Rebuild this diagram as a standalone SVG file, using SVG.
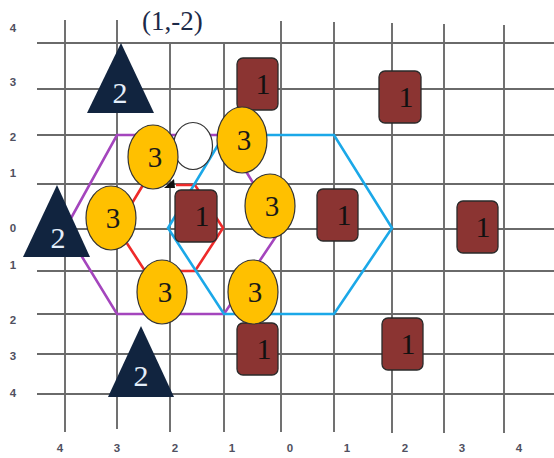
<svg xmlns="http://www.w3.org/2000/svg" width="554" height="458" viewBox="0 0 554 458">
<style>
.grid line{stroke:#6a6a6a;stroke-width:1.9}
.ax{font-family:"Liberation Sans",Arial,sans-serif;font-size:11.5px;font-weight:bold;fill:#505060;text-anchor:middle}
.hex{fill:none;stroke-width:2.6;stroke-linejoin:miter}
.tri{fill:#11243f}
.tri-t{font-family:"Liberation Serif","Times New Roman",serif;font-size:30px;fill:#e4eefa;text-anchor:middle}
.circ{fill:#ffc000;stroke:#333;stroke-width:1.2}
.circ-t{font-family:"Liberation Serif","Times New Roman",serif;font-size:29px;fill:#1a1a1a;text-anchor:middle}
.sq{fill:#8b3432;stroke:#2a2a2a;stroke-width:1.3}
.sq-t{font-family:"Liberation Serif","Times New Roman",serif;font-size:30px;fill:#111;text-anchor:middle}
</style>
<rect width="554" height="458" fill="#fff"/>
<g id="grid" class="grid">
<line x1="37" y1="43" x2="554" y2="43"/>
<line x1="37" y1="89" x2="554" y2="89"/>
<line x1="37" y1="135" x2="554" y2="135"/>
<line x1="37" y1="184" x2="554" y2="184"/>
<line x1="37" y1="229" x2="554" y2="229"/>
<line x1="37" y1="271" x2="554" y2="271"/>
<line x1="37" y1="314" x2="554" y2="314"/>
<line x1="37" y1="354" x2="554" y2="354"/>
<line x1="37" y1="394" x2="554" y2="394"/>
<line x1="65" y1="20" x2="65" y2="432"/>
<line x1="117" y1="20" x2="117" y2="429"/>
<line x1="170" y1="43" x2="170" y2="432"/>
<line x1="224" y1="43" x2="224" y2="432"/>
<line x1="281" y1="21" x2="281" y2="432"/>
<line x1="334" y1="22" x2="334" y2="432"/>
<line x1="392" y1="23" x2="392" y2="433"/>
<line x1="444" y1="24" x2="444" y2="433"/>
<line x1="504" y1="25" x2="504" y2="433"/>
</g>
<g id="axis-labels">
<text class="ax" x="13" y="32">4</text>
<text class="ax" x="13" y="86">3</text>
<text class="ax" x="13" y="141">2</text>
<text class="ax" x="13" y="177">1</text>
<text class="ax" x="13" y="232">0</text>
<text class="ax" x="13" y="269">1</text>
<text class="ax" x="13" y="324">2</text>
<text class="ax" x="13" y="360">3</text>
<text class="ax" x="13" y="397">4</text>
<text class="ax" x="60" y="452">4</text>
<text class="ax" x="117" y="452">3</text>
<text class="ax" x="175" y="452">2</text>
<text class="ax" x="232" y="452">1</text>
<text class="ax" x="290" y="452">0</text>
<text class="ax" x="347" y="452">1</text>
<text class="ax" x="405" y="452">2</text>
<text class="ax" x="462" y="452">3</text>
<text class="ax" x="519" y="452">4</text>
</g>
<text id="title" x="142" y="30" font-family="'Liberation Serif','Times New Roman',serif" font-size="27" fill="#1c2a48">(1,-2)</text>
<g id="connectors">
<polygon class="hex" stroke="#a445bd" points="117,135 224,135 281,229 224,314 117,314 65,229"/>
<path class="hex" stroke="#ee2a2a" d="M176,185 L195,185 L223,228 L195,271 L145,271 L117,228 L143,185"/>
<polygon class="hex" stroke="#1ba8e8" points="224,135 334,135 392,228 334,314 224,314 168,228"/>
</g>
<g id="sq1"><rect class="sq" x="237" y="58" width="41" height="52" rx="6"/><text class="sq-t" x="263" y="94">1</text></g>
<g id="sq2"><rect class="sq" x="379" y="71" width="42" height="52" rx="6"/><text class="sq-t" x="406" y="107">1</text></g>
<g id="sq3"><rect class="sq" x="175" y="190" width="42" height="52" rx="6"/><text class="sq-t" x="202" y="226">1</text></g>
<g id="sq4"><rect class="sq" x="317" y="189" width="41" height="52" rx="6"/><text class="sq-t" x="344" y="225">1</text></g>
<g id="sq5"><rect class="sq" x="457" y="201" width="41" height="52" rx="6"/><text class="sq-t" x="483" y="237">1</text></g>
<g id="sq6"><rect class="sq" x="237" y="323" width="41" height="52" rx="6"/><text class="sq-t" x="264" y="359">1</text></g>
<g id="sq7"><rect class="sq" x="382" y="318" width="41" height="52" rx="6"/><text class="sq-t" x="408" y="354">1</text></g>
<g id="tri1"><polygon class="tri" points="121,43 87,113 154,113"/><text class="tri-t" x="120" y="103">2</text></g>
<g id="tri2"><polygon class="tri" points="57,185 23,257 90,257"/><text class="tri-t" x="58" y="248">2</text></g>
<g id="tri3"><polygon class="tri" points="141,326 108,397 174,397"/><text class="tri-t" x="141" y="386">2</text></g>
<g id="artifact"><polygon points="164,188 174,179 175,188" fill="#111"/></g>
<g id="c-white"><ellipse cx="193" cy="146" rx="19.5" ry="23.5" fill="#fff" stroke="#333" stroke-width="1.2"/></g>
<g id="c1"><ellipse class="circ" cx="153" cy="157" rx="25" ry="32"/><text class="circ-t" x="155" y="167">3</text></g>
<g id="c2"><ellipse class="circ" cx="111" cy="218" rx="25" ry="32"/><text class="circ-t" x="113" y="228">3</text></g>
<g id="c3"><ellipse class="circ" cx="162" cy="292" rx="25" ry="32"/><text class="circ-t" x="165" y="302">3</text></g>
<g id="c4"><ellipse class="circ" cx="253" cy="292" rx="25" ry="32"/><text class="circ-t" x="255" y="302">3</text></g>
<g id="c5"><ellipse class="circ" cx="242" cy="140" rx="25" ry="33"/><text class="circ-t" x="244" y="150">3</text></g>
<g id="c6"><ellipse class="circ" cx="270" cy="206" rx="25" ry="32"/><text class="circ-t" x="272" y="216">3</text></g>
</svg>
